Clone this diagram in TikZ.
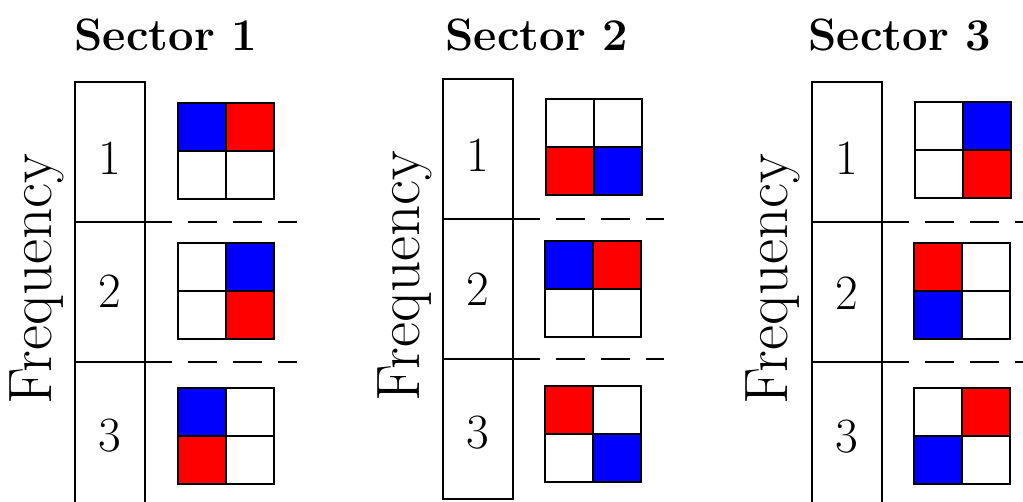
\documentclass[tikz,border=0pt]{standalone}
\begin{document}
\begin{tikzpicture}[x=0.75pt,y=-0.75pt,
  cell/.style={draw,line width=1.3pt,minimum size=36pt,inner sep=0pt,outer sep=0pt},
  rowbox/.style={draw,line width=1.3pt,minimum width=52.5pt,inner sep=0pt,outer sep=0pt},
  digit/.style={inner sep=0pt,font=\fontsize{37}{40}\selectfont},
  title/.style={inner sep=0pt,anchor=base,font=\fontsize{34}{38}\selectfont\bfseries},
  freq/.style={inner sep=0pt,anchor=base,rotate=90,font=\fontsize{46}{50}\selectfont},
  dashline/.style={line width=1pt,dash pattern=on 21.75pt off 12pt,dash phase=1.5pt}]
\useasboundingbox (0,0) rectangle (1023,501);
\newcommand{\gridfour}[7]{%
  \node[cell,fill=#4] (#1a) at ({#2+24},{#3+24}) {};
  \node[cell,fill=#5] (#1b) at ({#2+72},{#3+24}) {};
  \node[cell,fill=#6] (#1c) at ({#2+24},{#3+72}) {};
  \node[cell,fill=#7] (#1d) at ({#2+72},{#3+72}) {};}
% Titles
\node[title] (t1) at (166,50) {Sector 1};
\node[title] (t2) at (537,50) {Sector 2};
\node[title] (t3) at (900,50) {Sector 3};
% Frequency labels
\node[freq] (fq1) at (51,279) {Frequency};
\node[freq] (fq2) at (419,276) {Frequency};
\node[freq] (fq3) at (787,279) {Frequency};
% Sector 1 column
\node[rowbox,minimum height=105pt] (s1r1) at (110,152) {};
\node[rowbox,minimum height=105pt] (s1r2) at (110,292) {};
\node[rowbox,minimum height=107.25pt] (s1r3) at (110,433.5) {};
\node[digit] (s1d1) at (110,158) {1};
\node[digit] (s1d2) at (110,291) {2};
\node[digit] (s1d3) at (110,436) {3};
% Sector 2 column
\node[rowbox,minimum height=105pt] (s2r1) at (478,149) {};
\node[rowbox,minimum height=105pt] (s2r2) at (478,289) {};
\node[rowbox,minimum height=105pt] (s2r3) at (478,429) {};
\node[digit] (s2d1) at (478,155) {1};
\node[digit] (s2d2) at (478,289) {2};
\node[digit] (s2d3) at (478,433) {3};
% Sector 3 column
\node[rowbox,minimum height=105pt] (s3r1) at (847,152) {};
\node[rowbox,minimum height=105pt] (s3r2) at (847,292) {};
\node[rowbox,minimum height=107.25pt] (s3r3) at (847,433.5) {};
\node[digit] (s3d1) at (847,158) {1};
\node[digit] (s3d2) at (847,293) {2};
\node[digit] (s3d3) at (847,437) {3};
% Dashed separators
\coordinate (e11) at (297,222); \coordinate (e12) at (297,362);
\coordinate (e21) at (664,219); \coordinate (e22) at (664,359);
\coordinate (e31) at (1030,222); \coordinate (e32) at (1030,362);
\draw[dashline] (s1r1.south east) -- (e11);
\draw[dashline] (s1r2.south east) -- (e12);
\draw[dashline] (s2r1.south east) -- (e21);
\draw[dashline] (s2r2.south east) -- (e22);
\draw[dashline] (s3r1.south east) -- (e31);
\draw[dashline] (s3r2.south east) -- (e32);
% Grids: name, x left, y top, TL, TR, BL, BR
\gridfour{g11}{178}{103}{blue}{red}{white}{white}
\gridfour{g12}{178}{243}{white}{blue}{white}{red}
\gridfour{g13}{178}{388}{blue}{white}{red}{white}
\gridfour{g21}{546}{99}{white}{white}{red}{blue}
\gridfour{g22}{545}{241}{blue}{red}{white}{white}
\gridfour{g23}{545}{386}{red}{white}{white}{blue}
\gridfour{g31}{915}{102}{white}{blue}{white}{red}
\gridfour{g32}{914}{243}{red}{white}{blue}{white}
\gridfour{g33}{914}{388}{white}{red}{blue}{white}
\end{tikzpicture}
\end{document}
